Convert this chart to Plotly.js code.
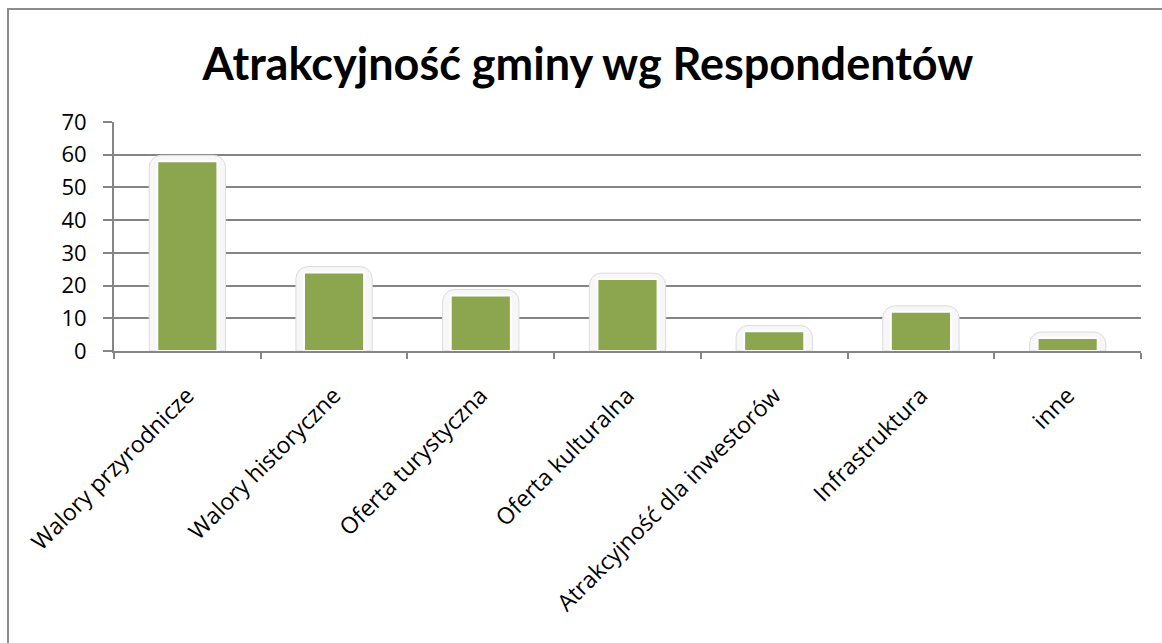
<!DOCTYPE html>
<html>
<head>
<meta charset="utf-8">
<script src="https://cdn.plot.ly/plotly-3.0.1.min.js"></script>
<style>
  html, body { margin: 0; padding: 0; background: #ffffff; overflow: hidden; }
  #frame { position: absolute; left: 7px; top: 8px; width: 1400px; height: 900px; border: 2px solid #8c8c8c; box-sizing: border-box; }
  #chart { position: absolute; left: 0; top: 0; width: 1162px; height: 643px; }
</style>
</head>
<body>
<div id="frame"></div>
<div id="chart"></div>
<script>
const categories = [
  "Walory przyrodnicze",
  "Walory historyczne",
  "Oferta turystyczna",
  "Oferta kulturalna",
  "Atrakcyjność dla inwestorów",
  "Infrastruktura",
  "inne"
];
const values = [58, 24, 17, 22, 6, 12, 4];
const yTicks = [0, 10, 20, 30, 40, 50, 60, 70];
const titleText = "Atrakcyjność gminy wg Respondentów";

const glowPad = 1.8;
const glow = {
  type: "bar",
  x: categories,
  y: values.map(v => v + glowPad),
  width: 0.52,
  marker: { color: "#f7f7f7", line: { color: "#dcdcdc", width: 1 }, cornerradius: 12 },
  hoverinfo: "skip",
  showlegend: false
};
const bars = {
  type: "bar",
  x: categories,
  y: values,
  width: 0.41,
  marker: { color: "#8ba64f", line: { color: "#ffffff", width: 2 } },
  hoverinfo: "skip",
  showlegend: false
};

const layout = {
  width: 1162,
  height: 643,
  paper_bgcolor: "rgba(0,0,0,0)",
  plot_bgcolor: "rgba(0,0,0,0)",
  margin: { l: 114, r: 21, t: 122, b: 292, pad: 0 },
  barmode: "overlay",
  font: { family: "Open Sans, sans-serif", color: "#000000" },
  title: {
    text: titleText,
    font: { family: "Lato, sans-serif", size: 45, color: "#000000", weight: "bold" },
    x: 0.506, xref: "container", xanchor: "center",
    y: 0.9, yref: "container", yanchor: "middle"
  },
  xaxis: {
    type: "category",
    tickangle: -45,
    tickson: "boundaries",
    ticks: "outside",
    ticklen: 6,
    tickcolor: "#858585",
    tickwidth: 2,
    ticklabelstandoff: 20,
    showline: true,
    linecolor: "#858585",
    linewidth: 2,
    showgrid: false,
    zeroline: false,
    tickfont: { size: 23, family: "Open Sans, sans-serif", color: "#000000" },
    fixedrange: true
  },
  yaxis: {
    range: [0, 70],
    tickvals: yTicks,
    ticktext: yTicks.map(String),
    ticks: "outside",
    ticklen: 9,
    tickcolor: "#858585",
    tickwidth: 2,
    ticklabelstandoff: 12,
    showline: true,
    linecolor: "#858585",
    linewidth: 2,
    showgrid: true,
    gridcolor: "#858585",
    gridwidth: 2,
    zeroline: false,
    tickfont: { size: 22, family: "Open Sans, sans-serif", color: "#000000" },
    fixedrange: true
  },
  hovermode: false
};

Plotly.newPlot("chart", [glow, bars], layout, { displayModeBar: false, staticPlot: true });
</script>
</body>
</html>
